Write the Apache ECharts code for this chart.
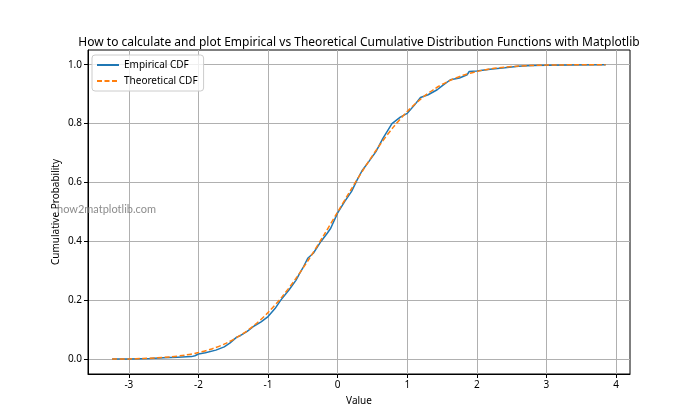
<!DOCTYPE html>
<html>
<head>
<meta charset="utf-8">
<script src="https://cdn.jsdelivr.net/npm/echarts@6/dist/echarts.min.js"></script>
<style>html,body{margin:0;padding:0;background:#fff}#c{width:700px;height:420px}</style>
</head>
<body>
<div id="c"></div>
<script>
const titleText = "How to calculate and plot Empirical vs Theoretical Cumulative Distribution Functions with Matplotlib";
const xTicks = [-3, -2, -1, 0, 1, 2, 3, 4];
const yTicks = [0.0, 0.2, 0.4, 0.6, 0.8, 1.0];
const empiricalX = [-3.24, -3.0, -2.7, -2.5, -2.3, -2.1, -2.05, -2.0, -1.9, -1.75, -1.63, -1.55, -1.5, -1.45, -1.4, -1.3, -1.2, -1.1, -1.0, -0.9, -0.82, -0.7, -0.6, -0.55, -0.5, -0.43, -0.35, -0.24, -0.15, -0.1, 0.0, 0.1, 0.2, 0.28, 0.35, 0.45, 0.55, 0.65, 0.78, 0.9, 1.0, 1.1, 1.19, 1.3, 1.43, 1.5, 1.62, 1.75, 1.86, 1.89, 2.0, 2.19, 2.4, 2.6, 2.8, 3.0, 3.4, 3.85];
const empiricalY = [0.001, 0.001, 0.003, 0.005, 0.007, 0.009, 0.012, 0.018, 0.022, 0.031, 0.042, 0.055, 0.065, 0.075, 0.080, 0.095, 0.113, 0.127, 0.145, 0.172, 0.200, 0.235, 0.268, 0.290, 0.310, 0.343, 0.360, 0.400, 0.428, 0.445, 0.497, 0.535, 0.570, 0.609, 0.640, 0.672, 0.705, 0.750, 0.800, 0.822, 0.835, 0.862, 0.889, 0.898, 0.915, 0.928, 0.949, 0.955, 0.966, 0.977, 0.979, 0.985, 0.990, 0.995, 0.997, 0.998, 0.999, 1.0];
const theoreticalX = [-3.24, -3.0, -2.8, -2.6, -2.4, -2.2, -2.0, -1.8, -1.6, -1.4, -1.2, -1.0, -0.8, -0.6, -0.4, -0.2, 0.0, 0.2, 0.4, 0.6, 0.8, 1.0, 1.2, 1.4, 1.6, 1.8, 2.0, 2.2, 2.4, 2.6, 2.8, 3.0, 3.2, 3.4, 3.6, 3.85];
const theoreticalY = [0.0006, 0.0013, 0.0026, 0.0047, 0.0082, 0.0139, 0.0228, 0.0359, 0.0548, 0.0808, 0.1151, 0.1587, 0.2119, 0.2743, 0.3446, 0.4207, 0.5, 0.5793, 0.6554, 0.7257, 0.7881, 0.8413, 0.8849, 0.9192, 0.9452, 0.9641, 0.9772, 0.9861, 0.9918, 0.9953, 0.9974, 0.9987, 0.9993, 0.9997, 0.9998, 0.9999];

const FONT = "Noto Sans";
const chart = echarts.init(document.getElementById('c'), null, {renderer: 'canvas'});
const zip = (a, b) => a.map((v, i) => [v, b[i]]);
chart.setOption({
  animation: false,
  backgroundColor: '#fff',
  textStyle: {fontFamily: FONT},
  title: {
    text: titleText, left: 354, textAlign: 'center', top: 32,
    textStyle: {fontFamily: FONT, fontSize: 12, fontWeight: 'normal', color: '#000'}
  },
  grid: {left: 88, right: 70, top: 50, bottom: 46, show: true, borderColor: '#000', borderWidth: 1, backgroundColor: 'transparent', containLabel: false},
  legend: {
    left: 92, top: 55, orient: 'vertical',
    data: ['Empirical CDF', 'Theoretical CDF'],
    itemWidth: 22, itemHeight: 10, itemGap: 6,
    padding: [5, 6, 5, 4],
    itemStyle: {opacity: 0},
    backgroundColor: 'rgba(255,255,255,0.8)', borderColor: '#cccccc', borderWidth: 1, borderRadius: 3,
    textStyle: {fontFamily: FONT, fontSize: 10, color: '#000'}
  },
  xAxis: {
    type: 'value', min: -3.587, max: 4.2,
    name: 'Value', nameLocation: 'middle', nameGap: 22, nameMoveOverlap: false,
    nameTextStyle: {fontFamily: FONT, fontSize: 10, color: '#000'},
    axisLine: {show: true, onZero: false, lineStyle: {color: '#000', width: 1}},
    axisTick: {show: true, length: 4, lineStyle: {color: '#000'}, customValues: xTicks},
    axisLabel: {customValues: xTicks, fontFamily: FONT, fontSize: 10, color: '#000', margin: 6, formatter: v => String(Math.round(v))},
    splitLine: {show: true, lineStyle: {color: '#b0b0b0', width: 1}}
  },
  yAxis: {
    type: 'value', min: -0.05, max: 1.05,
    name: 'Cumulative Probability', nameLocation: 'middle', nameGap: 32, nameMoveOverlap: false,
    nameTextStyle: {fontFamily: FONT, fontSize: 10, color: '#000', verticalAlign: 'middle'},
    axisLine: {show: true, onZero: false, lineStyle: {color: '#000', width: 1}},
    axisTick: {show: true, length: 4, lineStyle: {color: '#000'}, customValues: yTicks},
    axisLabel: {customValues: yTicks, fontFamily: FONT, fontSize: 10, color: '#000', margin: 6, formatter: v => v.toFixed(1)},
    splitLine: {show: true, lineStyle: {color: '#b0b0b0', width: 1}}
  },
  graphic: [{
    type: 'text', left: 57, top: 204, z: 100,
    style: {text: 'how2matplotlib.com', fontFamily: 'Lato', fontSize: 11, fill: 'rgba(120,120,120,0.85)'}
  }],
  series: [
    {name: 'Empirical CDF', type: 'line', data: zip(empiricalX, empiricalY), showSymbol: false, symbol: 'none',
     lineStyle: {color: '#1f77b4', width: 1.5}, itemStyle: {color: '#1f77b4'}, z: 3},
    {name: 'Theoretical CDF', type: 'line', data: zip(theoreticalX, theoreticalY), showSymbol: false, symbol: 'none', smooth: 0.3,
     lineStyle: {color: '#ff7f0e', width: 1.5, type: [5, 2.5]}, itemStyle: {color: '#ff7f0e'}, z: 4}
  ]
});
</script>
</body>
</html>
